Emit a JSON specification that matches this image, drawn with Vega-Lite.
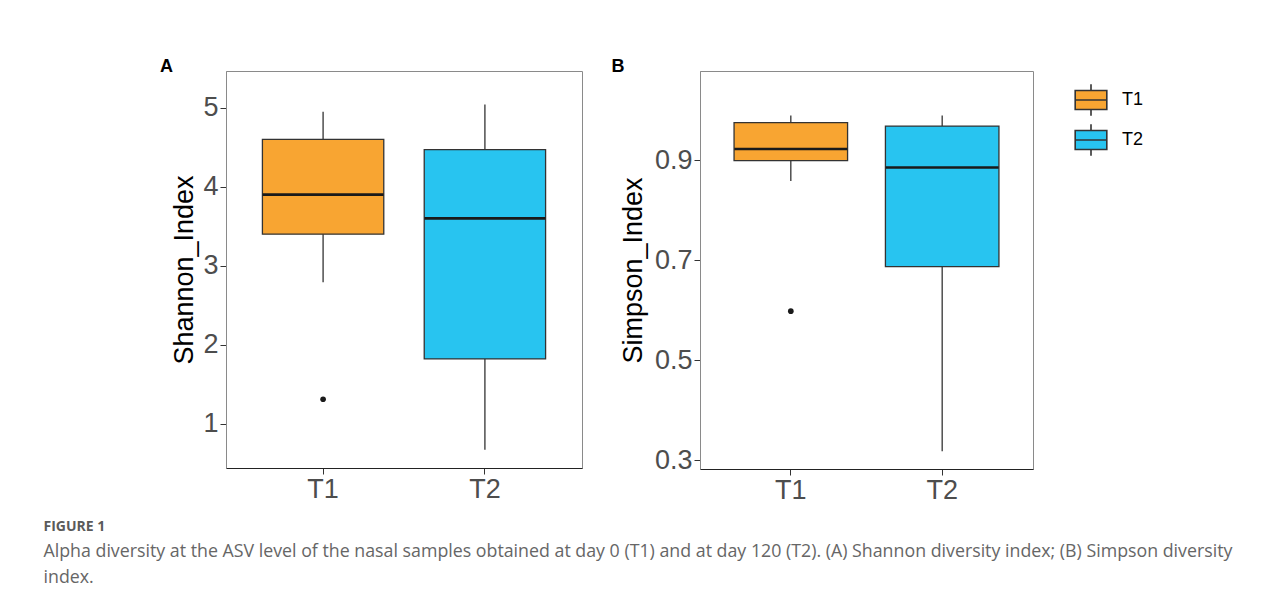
{
  "$schema": "https://vega.github.io/schema/vega-lite/v6.json",
  "background": "white",
  "padding": {"left": 43, "top": 57, "right": 5, "bottom": 5},
  "datasets": {
    "shannon": [
      {"group": "T1", "lower": 2.79, "q1": 3.40, "median": 3.90, "q3": 4.60, "upper": 4.95},
      {"group": "T2", "lower": 0.67, "q1": 1.82, "median": 3.60, "q3": 4.47, "upper": 5.04}
    ],
    "shannon_out": [
      {"group": "T1", "value": 1.31}
    ],
    "simpson": [
      {"group": "T1", "lower": 0.858, "q1": 0.899, "median": 0.922, "q3": 0.975, "upper": 0.989},
      {"group": "T2", "lower": 0.318, "q1": 0.687, "median": 0.885, "q3": 0.968, "upper": 0.989}
    ],
    "simpson_out": [
      {"group": "T1", "value": 0.598}
    ]
  },
  "title": {
    "text": "FIGURE 1",
    "subtitle": ["Alpha diversity at the ASV level of the nasal samples obtained at day 0 (T1) and at day 120 (T2). (A) Shannon diversity index; (B) Simpson diversity", "index."],
    "orient": "bottom",
    "anchor": "start",
    "frame": "bounds",
    "dx": -116,
    "offset": 16,
    "font": "Open Sans",
    "fontSize": 14,
    "fontWeight": "bold",
    "color": "#5a5a5a",
    "subtitleFont": "Open Sans",
    "subtitleFontSize": 17.8,
    "subtitleColor": "#666666",
    "subtitleLineHeight": 26,
    "subtitlePadding": 9
  },
  "spacing": 27,
  "hconcat": [
    {
      "width": 356,
      "height": 397,
      "title": {"text": "A", "anchor": "start", "frame": "bounds", "dx": -11, "offset": -5, "fontSize": 18, "fontWeight": "bold", "font": "Liberation Sans", "color": "#000000"},
      "encoding": {
        "x": {"field": "group", "type": "nominal", "scale": {"domain": ["T1", "T2"], "paddingInner": 0, "paddingOuter": 0.1}, "axis": {"title": null, "labelAngle": 0, "domainColor": "#222222"}}
      },
      "layer": [
        {
          "data": {"name": "shannon"},
          "mark": {"type": "rule", "color": "#333333", "strokeWidth": 1.3},
          "encoding": {
            "y": {"field": "lower", "type": "quantitative", "scale": {"domain": [0.44, 5.465], "nice": false, "zero": false}, "axis": {"title": "Shannon_Index", "values": [1, 2, 3, 4, 5], "format": "d", "titlePadding": 4}},
            "y2": {"field": "upper"}
          }
        },
        {
          "data": {"name": "shannon"},
          "mark": {"type": "bar", "width": {"band": 0.75}, "stroke": "#333333", "strokeWidth": 1.3},
          "encoding": {
            "y": {"field": "q1", "type": "quantitative"},
            "y2": {"field": "q3"},
            "fill": {"field": "group", "type": "nominal", "scale": {"domain": ["T1", "T2"], "range": ["#F8A532", "#28C4F0"]}, "legend": {"title": null}}
          }
        },
        {
          "data": {"name": "shannon"},
          "mark": {"type": "tick", "color": "#1a1a1a", "thickness": 2.6, "size": 121, "opacity": 1},
          "encoding": {
            "y": {"field": "median", "type": "quantitative"}
          }
        },
        {
          "data": {"name": "shannon_out"},
          "mark": {"type": "circle", "color": "#1a1a1a", "size": 32, "opacity": 1},
          "encoding": {
            "y": {"field": "value", "type": "quantitative"}
          }
        }
      ]
    },
    {
      "width": 333,
      "height": 398,
      "title": {"text": "B", "anchor": "start", "frame": "bounds", "dx": -8, "offset": -5, "fontSize": 18, "fontWeight": "bold", "font": "Liberation Sans", "color": "#000000"},
      "encoding": {
        "x": {"field": "group", "type": "nominal", "scale": {"domain": ["T1", "T2"], "paddingInner": 0, "paddingOuter": 0.1}, "axis": {"title": null, "labelAngle": 0, "domainColor": "#222222"}}
      },
      "layer": [
        {
          "data": {"name": "simpson"},
          "mark": {"type": "rule", "color": "#333333", "strokeWidth": 1.3},
          "encoding": {
            "y": {"field": "lower", "type": "quantitative", "scale": {"domain": [0.2826, 1.078], "nice": false, "zero": false}, "axis": {"title": "Simpson_Index", "values": [0.3, 0.5, 0.7, 0.9], "format": ".1f", "titlePadding": 7}},
            "y2": {"field": "upper"}
          }
        },
        {
          "data": {"name": "simpson"},
          "mark": {"type": "bar", "width": {"band": 0.75}, "stroke": "#333333", "strokeWidth": 1.3},
          "encoding": {
            "y": {"field": "q1", "type": "quantitative"},
            "y2": {"field": "q3"},
            "fill": {"field": "group", "type": "nominal", "scale": {"domain": ["T1", "T2"], "range": ["#F8A532", "#28C4F0"]}, "legend": {"title": null}}
          }
        },
        {
          "data": {"name": "simpson"},
          "mark": {"type": "tick", "color": "#1a1a1a", "thickness": 2.6, "size": 113, "opacity": 1},
          "encoding": {
            "y": {"field": "median", "type": "quantitative"}
          }
        },
        {
          "data": {"name": "simpson_out"},
          "mark": {"type": "circle", "color": "#1a1a1a", "size": 32, "opacity": 1},
          "encoding": {
            "y": {"field": "value", "type": "quantitative"}
          }
        }
      ]
    }
  ],
  "config": {
    "view": {"stroke": "#8a8a8a", "strokeWidth": 1},
    "axis": {
      "grid": false,
      "labelFont": "Liberation Sans",
      "titleFont": "Liberation Sans",
      "labelFontSize": 27,
      "titleFontSize": 27,
      "titleFontWeight": "normal",
      "labelColor": "#4d4d4d",
      "titleColor": "#000000",
      "tickColor": "#333333",
      "tickSize": 6,
      "domainColor": "#8a8a8a",
      "labelPadding": 2
    },
    "legend": {
      "orient": "right",
      "offset": 28,
      "padding": 12,
      "labelFont": "Liberation Sans",
      "labelFontSize": 18,
      "labelColor": "#000000",
      "labelOffset": 14,
      "symbolType": "M-1,-0.6L1,-0.6L1,0.6L-1,0.6Z M0,-1L0,-0.6 M0,0.6L0,1 M-1,0L1,0",
      "symbolSize": 1000,
      "symbolStrokeColor": "#333333",
      "symbolStrokeWidth": 1.6,
      "symbolOpacity": 1,
      "rowPadding": 0
    }
  }
}
